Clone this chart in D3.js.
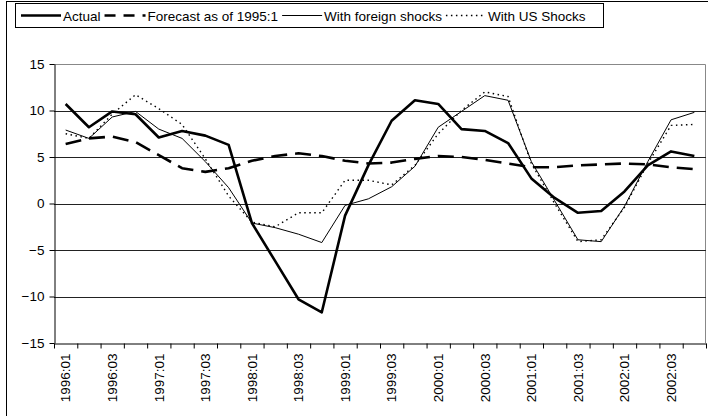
<!DOCTYPE html>
<html>
<head>
<meta charset="utf-8">
<script src="https://d3js.org/d3.v7.min.js"></script>
<style>
  body { margin: 0; background: #fff; }
  svg { display: block; font-family: "Liberation Sans", Arial, sans-serif; }
  .axis text { font-size: 13.5px; fill: #000; }
  .axis path, .axis line { stroke: #000; }
</style>
</head>
<body>
<div id="chart"></div>
<script>
const quarters = [
  '1996:01', '1996:02', '1996:03', '1996:04', '1997:01', '1997:02', '1997:03', '1997:04',
  '1998:01', '1998:02', '1998:03', '1998:04', '1999:01', '1999:02', '1999:03', '1999:04',
  '2000:01', '2000:02', '2000:03', '2000:04', '2001:01', '2001:02', '2001:03', '2001:04',
  '2002:01', '2002:02', '2002:03', '2002:04'
]
const actual = [10.7, 8.2, 9.9, 9.6, 7.1, 7.8, 7.3, 6.3, -2.1, -6.2, -10.3, -11.7, -1.3, 4.1,
  8.9, 11.1, 10.7, 8.0, 7.8, 6.5, 2.7, 0.6, -1.0, -0.8, 1.3, 4.1, 5.6, 5.1]
const forecast = [6.4, 7.0, 7.2, 6.6, 5.2, 3.8, 3.4, 3.8, 4.6, 5.1, 5.4, 5.1, 4.6, 4.3,
  4.4, 4.8, 5.1, 5.0, 4.7, 4.3, 3.9, 3.9, 4.1, 4.2, 4.3, 4.2, 3.9, 3.7]
const foreignShocks = [7.9, 7.0, 9.3, 9.9, 8.0, 7.0, 4.5, 1.7, -2.1, -2.6, -3.3, -4.2, -0.2, 0.5,
  1.8, 4.0, 8.2, 9.9, 11.6, 11.1, 4.5, 0.3, -3.9, -4.1, -0.3, 4.5, 9.0, 9.8]
const usShocks = [7.5, 7.0, 9.6, 11.7, 10.2, 8.5, 4.8, 0.8, -2.0, -2.5, -1.0, -1.0, 2.5, 2.5,
  2.0, 4.1, 7.5, 10.0, 12.0, 11.5, 4.3, 0.0, -4.1, -3.9, -0.4, 4.3, 8.4, 8.5]
const yTicks = [-15, -10, -5, 0, 5, 10, 15]
const legendLabels = ['Actual', 'Forecast as of 1995:1', 'With foreign shocks', 'With US Shocks']

const width = 708, height = 416
const margin = { top: 64, right: 2, bottom: 73, left: 54 }

const svg = d3.select('#chart')
    .append('svg')
    .attr('width', width)
    .attr('height', height)

// outer frame, only its left and top edges fall inside the picture
svg.append('rect')
    .attr('x', 6.5).attr('y', 1.5)
    .attr('width', 710).attr('height', 420)
    .attr('fill', 'none').attr('stroke', '#000')

const x = d3.scaleBand().domain(quarters).range([margin.left, width - margin.right])
const y = d3.scaleLinear().domain([-15, 15]).range([height - margin.bottom, margin.top])
const cx = d => x(d) + x.bandwidth() / 2

// plot border (top / right) in gray
svg.append('path')
    .attr('d', `M${margin.left},${y(15) + 0.5}H${width - margin.right - 0.5}V${y(-15)}`)
    .attr('fill', 'none').attr('stroke', '#888')

// gridlines
svg.append('g')
    .selectAll('line')
    .data(yTicks.filter(d => d > -15 && d < 15))
    .enter().append('line')
    .attr('x1', margin.left).attr('x2', width - margin.right)
    .attr('y1', d => Math.round(y(d)) + 0.5).attr('y2', d => Math.round(y(d)) + 0.5)
    .attr('stroke', '#222')

// y axis
svg.append('g')
    .attr('class', 'axis')
    .attr('transform', `translate(${margin.left + 0.5},0)`)
    .call(d3.axisLeft(y).tickValues(yTicks).tickSize(5).tickSizeOuter(0).tickPadding(5))

// x axis: tick marks at category boundaries
const xb = d3.scaleLinear().domain([0, quarters.length]).range(x.range())
svg.append('g')
    .attr('class', 'axis')
    .attr('transform', `translate(0,${Math.round(y(-15)) + 0.5})`)
    .call(d3.axisBottom(xb).tickValues(d3.range(quarters.length + 1)).tickSize(5).tickSizeOuter(0).tickFormat(''))

// x axis labels, every second quarter
svg.append('g')
    .attr('class', 'axis')
    .attr('transform', `translate(0,${Math.round(y(-15)) + 0.5})`)
    .call(d3.axisBottom(x).tickValues(quarters.filter((d, i) => i % 2 === 0)).tickSize(0))
    .call(g => g.select('.domain').remove())
    .selectAll('text')
    .attr('transform', 'rotate(-90)')
    .attr('text-anchor', 'end')
    .attr('x', -10)
    .attr('y', 0)
    .attr('dy', '0.35em')

const line = d3.line()
    .x((d, i) => cx(quarters[i]))
    .y(d => y(d))

const styles = [
  { data: actual, width: 2.6, dash: null, legendDash: null },
  { data: forecast, width: 2.6, dash: '16,8', legendDash: '11,8' },
  { data: foreignShocks, width: 1, dash: null, legendDash: null },
  { data: usShocks, width: 1.4, dash: '1.5,3.5', legendDash: '1.5,3.5' }
]

const series = svg.append('g')
styles.slice().reverse().forEach(s => {
  series.append('path')
      .datum(s.data)
      .attr('d', line)
      .attr('fill', 'none')
      .attr('stroke', '#000')
      .attr('stroke-width', s.width)
      .attr('stroke-dasharray', s.dash)
      .attr('stroke-linejoin', 'round')
})

// legend
const legend = svg.append('g')
legend.append('rect')
    .attr('x', 15.5).attr('y', 3.5)
    .attr('width', 588).attr('height', 24)
    .attr('fill', '#fff').attr('stroke', '#000')

const sampleLen = [40, 41, 40, 40]
let lx = 21
legendLabels.forEach((label, i) => {
  const s = styles[i]
  legend.append('line')
      .attr('x1', lx).attr('x2', lx + sampleLen[i])
      .attr('y1', 15.5).attr('y2', 15.5)
      .attr('stroke', '#000')
      .attr('stroke-width', s.width)
      .attr('stroke-dasharray', s.legendDash)
  lx += sampleLen[i] + 2
  const t = legend.append('text')
      .attr('x', lx).attr('y', 20.5)
      .attr('font-size', 13.5)
      .text(label)
  lx += t.node().getComputedTextLength() + 4
})
</script>
</body>
</html>
